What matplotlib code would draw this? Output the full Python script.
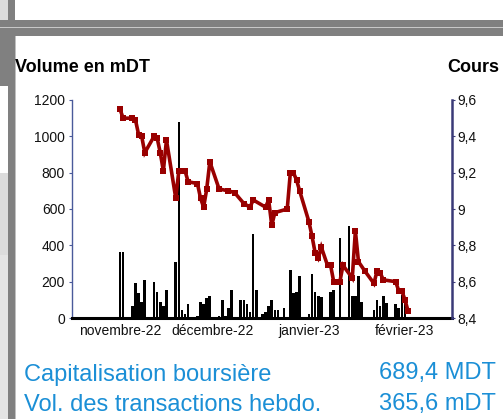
import matplotlib
matplotlib.use("Agg")
import matplotlib.pyplot as plt
import matplotlib.dates as mdates
from matplotlib.patches import Rectangle
from matplotlib.ticker import FuncFormatter
import pandas as pd

# ---------------- data ----------------
price_dates = [
    "2022-11-01", "2022-11-02", "2022-11-05", "2022-11-06", "2022-11-07", "2022-11-08",
    "2022-11-09", "2022-11-12", "2022-11-13", "2022-11-14", "2022-11-15", "2022-11-16",
    "2022-11-19", "2022-11-20", "2022-11-22", "2022-11-23", "2022-11-26", "2022-11-27",
    "2022-11-28", "2022-11-29", "2022-11-30", "2022-12-03", "2022-12-06", "2022-12-08",
    "2022-12-11", "2022-12-13", "2022-12-14", "2022-12-18", "2022-12-19", "2022-12-20",
    "2022-12-21", "2022-12-25", "2022-12-26", "2022-12-27", "2022-12-28", "2022-12-29",
    "2023-01-01", "2023-01-02", "2023-01-03", "2023-01-04", "2023-01-05", "2023-01-07",
    "2023-01-08", "2023-01-09", "2023-01-11", "2023-01-12", "2023-01-15", "2023-01-16",
    "2023-01-17", "2023-01-19", "2023-01-22", "2023-01-23", "2023-01-24", "2023-01-25",
    "2023-01-29", "2023-01-30", "2023-01-31", "2023-02-01", "2023-02-02",
]
price_values = [
    9.55, 9.50, 9.50, 9.49, 9.41, 9.40,
    9.31, 9.40, 9.39, 9.31, 9.21, 9.38,
    9.06, 9.21, 9.21, 9.15, 9.14, 9.06,
    9.01, 9.11, 9.26, 9.11, 9.10, 9.09,
    9.03, 9.01, 9.05, 9.01, 9.05, 8.91,
    8.98, 9.00, 9.20, 9.20, 9.16, 9.10,
    8.93, 8.85, 8.76, 8.73, 8.79, 8.69,
    8.69, 8.60, 8.60, 8.69, 8.62, 8.88,
    8.71, 8.66, 8.59, 8.66, 8.65, 8.61,
    8.60, 8.55, 8.55, 8.50, 8.44,
]

volume_dates = [
    "2022-11-01", "2022-11-02", "2022-11-05", "2022-11-06", "2022-11-07", "2022-11-08",
    "2022-11-09", "2022-11-12", "2022-11-13", "2022-11-14", "2022-11-15", "2022-11-16",
    "2022-11-19", "2022-11-20", "2022-11-21", "2022-11-22", "2022-11-23", "2022-11-26",
    "2022-11-27", "2022-11-28", "2022-11-29", "2022-11-30", "2022-12-03", "2022-12-04",
    "2022-12-05", "2022-12-06", "2022-12-07", "2022-12-10", "2022-12-11", "2022-12-12",
    "2022-12-13", "2022-12-14", "2022-12-15", "2022-12-17", "2022-12-18", "2022-12-19",
    "2022-12-20", "2022-12-21", "2022-12-22", "2022-12-24", "2022-12-26", "2022-12-27",
    "2022-12-28", "2022-12-29", "2023-01-01", "2023-01-02", "2023-01-03", "2023-01-04",
    "2023-01-05", "2023-01-08", "2023-01-09", "2023-01-11", "2023-01-14", "2023-01-15",
    "2023-01-16", "2023-01-17", "2023-01-18", "2023-01-22", "2023-01-23", "2023-01-24",
    "2023-01-25", "2023-01-26", "2023-01-29", "2023-01-30", "2023-01-31", "2023-02-01",
]
volume_values = [
    365, 365, 66, 190, 135, 90,
    209, 200, 145, 90, 66, 154,
    310, 1079, 44, 22, 77, 11,
    90, 77, 110, 121, 11, 99,
    11, 55, 154, 99, 99, 77,
    35, 462, 154, 22, 35, 66,
    99, 44, 44, 55, 264, 135,
    145, 231, 22, 242, 145, 121,
    114, 145, 154, 440, 504, 121,
    121, 231, 90, 44, 99, 66,
    121, 82, 77, 55, 127, 85,
]

month_ticks = ["2022-11-01", "2022-12-01", "2023-01-01", "2023-02-01"]
month_labels = ["novembre-22", "décembre-22", "janvier-23", "février-23"]

vol_ticks = [0, 200, 400, 600, 800, 1000, 1200]
price_ticks = [8.4, 8.6, 8.8, 9.0, 9.2, 9.4, 9.6]

cap_label, cap_value = "Capitalisation boursière", "689,4 MDT"
vol_label, vol_value = "Vol. des transactions hebdo.", "365,6 mDT"

# ---------------- figure ----------------
W, H = 503, 419
plt.rcParams["font.family"] = ["Liberation Sans", "DejaVu Sans"]
fig = plt.figure(figsize=(W / 100, H / 100), dpi=100)
fig.patch.set_facecolor("white")


def px_rect(x, y, w, h, color):
    fig.add_artist(Rectangle((x / W, 1 - (y + h) / H), w / W, h / H,
                             transform=fig.transFigure, facecolor=color,
                             edgecolor="none", zorder=0))


# page frame decorations
px_rect(0, 0, 8, 20, "#dcdcdc")
px_rect(8, 0, 7, 20, "#808080")
px_rect(0, 20, W, 7, "#808080")
px_rect(0, 27, W, 1.5, "#c8c8c8")
px_rect(0, 28.5, W, 7.5, "#808080")
px_rect(0, 36, 15, 50, "#808080")
px_rect(0, 173, 8, 82, "#dcdcdc")
px_rect(0, 255, 8, 164, "#e4e4e4")
px_rect(8, 36, 7, 383, "#808080")
px_rect(15, 36, 1.2, 383, "#c0c0c0")

x0, x1, y0, y1 = 72, 452, 100, 318
ax = fig.add_axes([x0 / W, 1 - y1 / H, (x1 - x0) / W, (y1 - y0) / H])
ax2 = ax.twinx()
ax.set_facecolor("none")
ax2.set_facecolor("none")

vd = pd.to_datetime(volume_dates)
pdts = pd.to_datetime(price_dates)

ax.bar(vd, volume_values, width=0.85, color="black", align="center", zorder=2,
       linewidth=0)
ax.set_ylim(0, 1200)
ax.set_yticks(vol_ticks)
ax.set_yticklabels([str(v) for v in vol_ticks])

nov1 = mdates.date2num(pd.Timestamp("2022-11-01"))
ax.set_xlim(nov1 - 15.5, nov1 + 107.2)
ax.set_xticks(pd.to_datetime(month_ticks))
ax.set_xticklabels(month_labels)

ax2.plot(pdts, price_values, color="#990000", lw=2.6, marker="s",
         markersize=4.6, markeredgewidth=0, zorder=3, solid_joinstyle="miter")
ax2.set_ylim(8.4, 9.6)
ax2.set_yticks(price_ticks)
ax2.yaxis.set_major_formatter(FuncFormatter(lambda v, p: (("%g" % round(v, 1)) if abs(v - 9.0) > 1e-6 else "9").replace(".", ",")))

for a in (ax, ax2):
    a.spines["top"].set_visible(False)
ax.spines["right"].set_visible(False)
ax2.spines["left"].set_visible(False)
ax2.spines["bottom"].set_visible(False)
ax.spines["left"].set_color("#4a5a9a")
ax.spines["left"].set_linewidth(1.0)
ax.spines["bottom"].set_color("black")
ax.spines["bottom"].set_linewidth(2.2)
ax.spines["bottom"].set_zorder(5)
ax2.spines["right"].set_color("#3a3a78")
ax2.spines["right"].set_linewidth(1.8)

ax.tick_params(axis="y", length=2, width=0.8, color="#4a5a9a", pad=3,
               labelsize=10, labelcolor="#111111")
ax.tick_params(axis="x", length=0, pad=4, labelsize=10, labelcolor="#111111")
ax2.tick_params(axis="y", length=2, width=0.8, color="#3a3a78", pad=2,
                labelsize=10, labelcolor="#111111")

fig.text(15 / W, 1 - 68 / H, "Volume en mDT", fontsize=13, fontweight="bold",
         ha="left", va="center", color="black")
fig.text(447 / W, 1 - 68 / H, "Cours", fontsize=13, fontweight="bold",
         ha="left", va="center", color="black")

blue = "#1b8fd6"
fig.text(24 / W, 1 - 375 / H, cap_label, fontsize=17, color=blue, ha="left", va="center")
fig.text(496 / W, 1 - 373 / H, cap_value, fontsize=17, color=blue, ha="right", va="center")
fig.text(24 / W, 1 - 405 / H, vol_label, fontsize=17, color=blue, ha="left", va="center")
fig.text(496 / W, 1 - 404 / H, vol_value, fontsize=17, color=blue, ha="right", va="center")

fig.savefig("out.png", dpi=100)
